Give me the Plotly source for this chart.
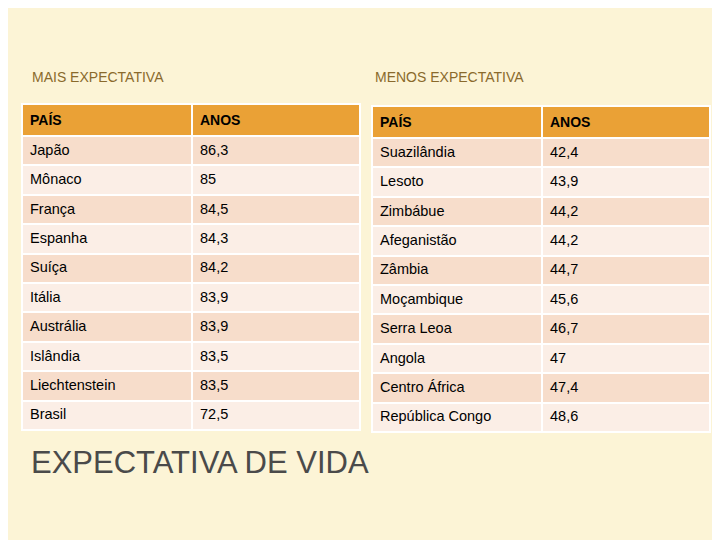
import plotly.graph_objects as go

mais_paises = ["Japão","Mônaco","França","Espanha","Suíça","Itália","Austrália","Islândia","Liechtenstein","Brasil"]
mais_anos = ["86,3","85","84,5","84,3","84,2","83,9","83,9","83,5","83,5","72,5"]
menos_paises = ["Suazilândia","Lesoto","Zimbábue","Afeganistão","Zâmbia","Moçambique","Serra Leoa","Angola","Centro África","República Congo"]
menos_anos = ["42,4","43,9","44,2","44,2","44,7","45,6","46,7","47","47,4","48,6"]
header = ["PAÍS","ANOS"]

rowc = ["#F7DDCB" if i % 2 == 0 else "#FBEEE6" for i in range(10)]
D = 8  # page offset

def table(p, a, x0, x1, top, h):
    return go.Table(
        domain=dict(x=[(x0-D)/720, (x1-D)/720], y=[0, 1-(top-D)/540]),
        columnwidth=[170, 168],
        header=dict(values=[f"<b>{v}</b>" for v in header], fill_color="#EAA136",
                    line_color="white", line_width=2, align="left", height=h,
                    font=dict(family="Liberation Sans", size=14, color="black")),
        cells=dict(values=[p, a], fill_color=[rowc, rowc], line_color="white", line_width=2,
                   align="left", height=h,
                   font=dict(family="Liberation Sans", size=14.5, color="black")),
    )

fig = go.Figure([table(mais_paises, mais_anos, 22, 360, 104, 29.4),
                 table(menos_paises, menos_anos, 372, 710, 106, 29.4)])
ann = lambda t, x, y, s, c: dict(text=t, x=(x-D)/720, y=1-(y-D)/540, xref="paper", yref="paper",
                                  xanchor="left", yanchor="middle", showarrow=False,
                                  font=dict(family="Liberation Sans", size=s, color=c))
fig.update_layout(
    width=720, height=540, margin=dict(l=0, r=0, t=0, b=0),
    paper_bgcolor="#FCF4D6", plot_bgcolor="#FCF4D6",
    annotations=[
        ann("MAIS EXPECTATIVA", 30, 77, 14, "#8A6A2C"),
        ann("MENOS EXPECTATIVA", 373, 77, 14, "#8A6A2C"),
        ann("EXPECTATIVA DE VIDA", 29, 462, 31, "#4A4A4A"),
    ],
)
fig.write_html("out.html")
